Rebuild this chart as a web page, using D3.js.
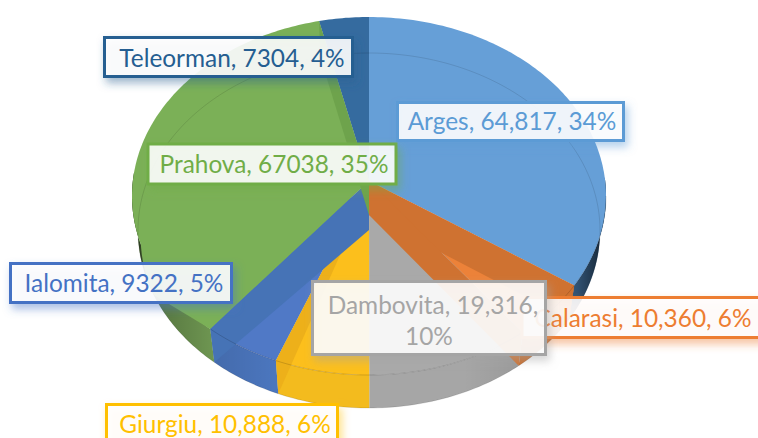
<!DOCTYPE html>
<html><head><meta charset="utf-8">
<script src="https://cdn.jsdelivr.net/npm/d3@7/dist/d3.min.js"></script>
<style>html,body{margin:0;background:#fff;overflow:hidden}svg{display:block}text{font-family:Lato,"Open Sans",sans-serif}</style>
</head><body><svg id="c" width="758" height="438"></svg>
<script>
const categories=["Arges","Calarasi","Dambovita","Giurgiu","Ialomita","Prahova","Teleorman"];
const values=[64817,10360,19316,10888,9322,67038,7304];
const labelLines=[["Arges, 64,817, 34%"],["Calarasi, 10,360, 6%"],["Dambovita, 19,316,","10%"],["Giurgiu, 10,888, 6%"],["Ialomita, 9322, 5%"],["Prahova, 67038, 35%"],["Teleorman, 7304, 4%"]];
const topColors=["#669FD7","#EC8239","#A9A9A9","#FCBF1C","#5079C6","#7BB057","#356B9F"];
const sideColors=["#4F86BC","#D9752F","#A6A6A6","#F3BB1E","#4B76BE","#7AA65A","#2F5F8F"];
const wallColors=["#DE7C3B","#CF7231","#A0A0A0","#EDB01A","#4673B6","#6EA34C","#2F6497"];
const labelColors=["#5B9BD5","#ED7D31","#A5A5A5","#FFC000","#4472C4","#70AD47","#255E91"];
const boxes=[[397.5,102.5,226,38],[522,297.5,250,40],[312.5,281.5,233,73],[106.5,404.5,231,50],[10.5,263.5,221,39],[148,144,248,40],[104.5,37.5,248,39]];
const textY=[[121],[318],[305,336],[424],[283],[164],[58]];
const textX=[[512],[643],[433,429],[225],[124],[274],[232]];
const wallOwner=[1,1,2,3,4,5,6];
const wallApexBase=[215,215,215,190,230,215,215];
const drawOrder=[6,5,0,1,2,3,4];

const svg=d3.select("#c");
const cx=369,cy=196,rx=237,ry=179,rxB=231,ryB=177.5,cyB=230.5,apexTop=181,k=3.7*Math.PI/180,deg=Math.PI/180;
const xTop=d3.scaleLinear().domain([0,1]).range([0,rx]);
const yTop=d3.scaleLinear().domain([0,1]).range([0,ry]);
const xBase=d3.scaleLinear().domain([0,1]).range([0,rxB]);
const yBase=d3.scaleLinear().domain([0,1]).range([0,ryB]);
const warp=a=>a>Math.PI? a+k*Math.abs(Math.sin(2*a)) : a+k*Math.sin(2*a);
const ptTop=a=>{const t=warp(a);return [cx+xTop(Math.sin(t)),cy-yTop(Math.cos(t))];};
const ptBase=a=>{const t=warp(a);return [cx+xBase(Math.sin(t)),cyB-yBase(Math.cos(t))];};
const arcs=d3.pie().sort(null).value(d=>d)(values);
const line=d3.line();
const samples=(a0,a1,f)=>{const n=Math.max(2,Math.ceil((a1-a0)*60));return d3.range(n+1).map(i=>f(a0+(a1-a0)*i/n));};

const defs=svg.append("defs");
const g=defs.append("linearGradient").attr("id","sh").attr("gradientUnits","userSpaceOnUse").attr("x1",132).attr("x2",606).attr("y1",0).attr("y2",0);
[[0,.75],[.05,.3],[.17,.1],[.3,0],[.7,0],[.86,.1],[.94,.4],[1,.75]].forEach(s=>g.append("stop").attr("offset",s[0]).attr("stop-color","#000").attr("stop-opacity",s[1]));
labelColors.forEach((c,i)=>{
  const f=defs.append("filter").attr("id","ds"+i).attr("x","-20%").attr("y","-40%").attr("width","140%").attr("height","190%");
  f.append("feDropShadow").attr("dx",3).attr("dy",5).attr("stdDeviation",4).attr("flood-color",c).attr("flood-opacity",.5);
});

const chart=svg.append("g");
// outer side walls (front half only)
arcs.forEach((d,i)=>{
  const a0=Math.max(d.startAngle,Math.PI/2-.12),a1=Math.min(d.endAngle,Math.PI*1.5+.12);
  if(a1<=a0)return;
  const p=samples(a0,a1,ptTop).concat(samples(a0,a1,ptBase).reverse());
  chart.append("path").attr("d",line(p)+"Z").attr("fill",sideColors[i]);
  chart.append("path").attr("d",line(p)+"Z").attr("fill","url(#sh)");
});
// lit shoulder of the largest slice: top colour runs out almost to the base outline
const shoulder=samples(246*deg,272*deg,ptBase).map(([x,y],j,all)=>[x+3*j/(all.length-1),y]);
chart.append("path").attr("d",line(shoulder.concat([[cx,cy],ptTop(arcs[4].endAngle)]))+"Z").attr("fill",topColors[5]);
// top faces
arcs.forEach((d,i)=>{
  const p=[[cx,apexTop]].concat(samples(d.startAngle,d.endAngle,ptTop));
  chart.append("path").attr("d",line(p)+"Z").attr("fill",topColors[i]);
});
// inner walls, seen through the translucent top
arcs.forEach((d,i)=>{
  chart.append("path").attr("d",line([[cx,apexTop],ptTop(d.endAngle),ptBase(d.endAngle),[cx,wallApexBase[i]]])+"Z").attr("fill",wallColors[wallOwner[i]]);
});
// outlines of the base and the front rim
chart.append("path").attr("d",line(samples(0,2*Math.PI,ptBase))+"Z").attr("fill","none").attr("stroke","#000").attr("stroke-opacity",.14).attr("stroke-width",.8);
chart.append("path").attr("d",line(samples(Math.PI/2,arcs[4].endAngle,ptTop))).attr("fill","none").attr("stroke","#000").attr("stroke-opacity",.2).attr("stroke-width",.8);

// data labels
const lab=svg.append("g");
drawOrder.forEach(i=>{
  const [x,y,w,h]=boxes[i];
  lab.append("rect").attr("x",x).attr("y",y).attr("width",w).attr("height",h)
    .attr("fill","#fff").attr("fill-opacity",.88).attr("stroke",labelColors[i]).attr("stroke-width",3)
    .attr("filter",`url(#ds${i})`);
  labelLines[i].forEach((t,j)=>{
    lab.append("text").attr("x",textX[i][j]).attr("y",textY[i][j]).attr("dy","0.35em").attr("text-anchor","middle")
      .attr("font-size",24.4).attr("fill",labelColors[i]).text(t);
  });
});
</script></body></html>
